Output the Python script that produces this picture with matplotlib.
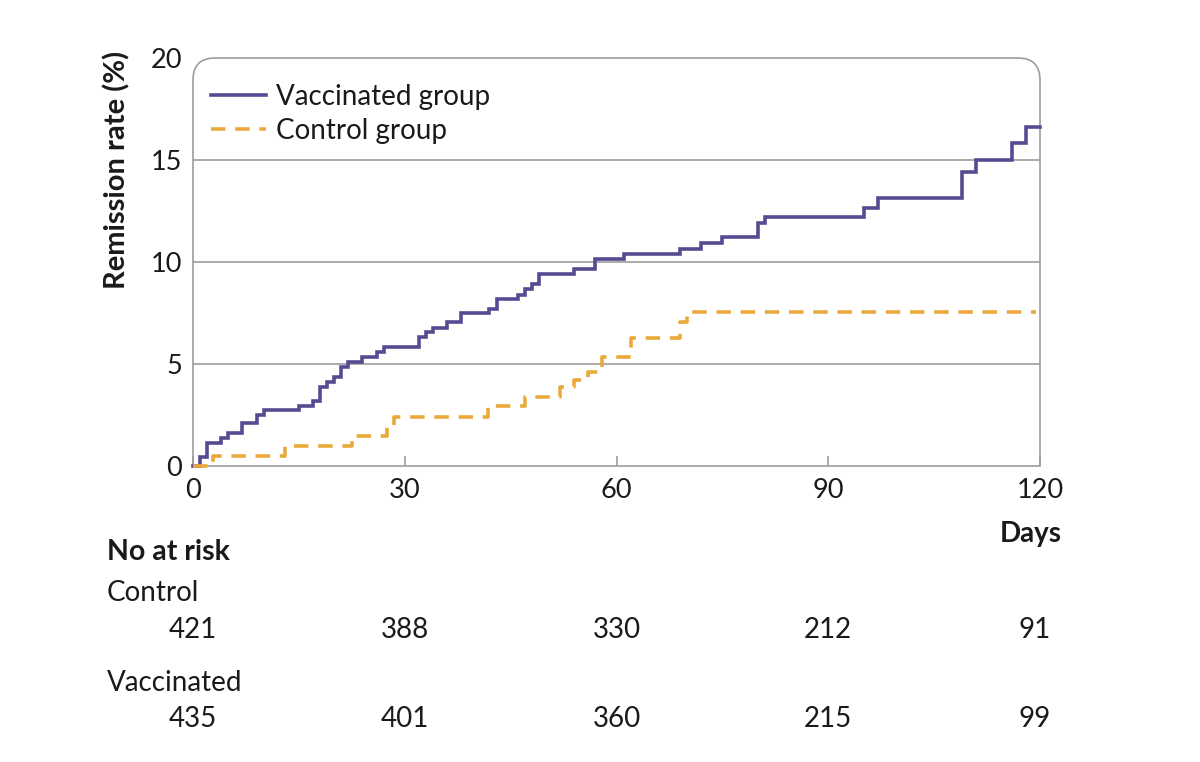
import matplotlib
matplotlib.use("Agg")
import matplotlib.pyplot as plt
from matplotlib.path import Path
from matplotlib.patches import PathPatch
import matplotlib.transforms as mtransforms

plt.rcParams['font.family'] = ['Lato', 'DejaVu Sans']

# ---- data ----
vacc_days = [0, 1, 2, 4, 5, 7, 9, 10, 15, 17, 18, 19, 20, 21, 22, 24, 26, 27,
             32, 33, 34, 36, 38, 42, 43, 46, 47, 48, 49, 54, 57, 61, 69, 72,
             75, 80, 81, 95, 97, 109, 111, 116, 118, 120]
vacc_vals = [0, 0.46, 1.14, 1.39, 1.63, 2.09, 2.50, 2.75, 2.96, 3.19, 3.89,
             4.13, 4.38, 4.87, 5.11, 5.36, 5.60, 5.85, 6.31, 6.58, 6.78, 7.04,
             7.48, 7.68, 8.19, 8.38, 8.66, 8.92, 9.41, 9.64, 10.13, 10.38,
             10.64, 10.92, 11.24, 11.90, 12.22, 12.63, 13.12, 14.43, 15.00,
             15.82, 16.60, 16.60]

ctrl_days = [0, 2.8, 13, 22.5, 27.5, 28.5, 41.8, 47, 52, 54, 56, 58, 62, 69,
             70, 119.5]
ctrl_vals = [0, 0.48, 0.97, 1.45, 1.94, 2.42, 2.96, 3.40, 3.85, 4.20, 4.62,
             5.36, 6.26, 7.07, 7.54, 7.54]

x_ticks = [0, 30, 60, 90, 120]
y_ticks = [0, 5, 10, 15, 20]
risk_days = [0, 30, 60, 90, 120]
risk_control = [421, 388, 330, 212, 91]
risk_vacc = [435, 401, 360, 215, 99]

series_labels = ["Vaccinated group", "Control group"]

# ---- styles ----
PURPLE = '#574a92'
ORANGE = '#e9aa3b'
GRID = '#9d9d9d'
TXT = '#1a1a1a'

fig = plt.figure(figsize=(12, 7.62), dpi=100)
ax = fig.add_axes([193/1200, 1 - 466/762, (1040-193)/1200, (466-58)/762])

ax.step(vacc_days, vacc_vals, where='post', color=PURPLE, lw=2.6,
        label=series_labels[0], solid_joinstyle='miter', zorder=3, clip_on=False)
ax.step(ctrl_days, ctrl_vals, where='post', color=ORANGE, lw=2.6,
        linestyle=(0, (4.0, 2.7)), label=series_labels[1], zorder=3, clip_on=False)

ax.set_xlim(0, 120)
ax.set_ylim(0, 20)
ax.set_xticks(x_ticks)
ax.set_yticks(y_ticks)

for v in y_ticks[1:-1]:
    ax.axhline(v, color=GRID, lw=1.2, zorder=1)

for s in ['top', 'left', 'right']:
    ax.spines[s].set_visible(False)
ax.spines['bottom'].set_color(GRID)
ax.spines['bottom'].set_linewidth(1.2)

# rounded-top frame
rx, ry = 22/847, 22/408
verts = [(0, 0), (0, 1 - ry), (0, 1), (rx, 1), (1 - rx, 1), (1, 1), (1, 1 - ry), (1, 0)]
codes = [Path.MOVETO, Path.LINETO, Path.CURVE3, Path.CURVE3, Path.LINETO,
         Path.CURVE3, Path.CURVE3, Path.LINETO]
frame = PathPatch(Path(verts, codes), transform=ax.transAxes, fill=False,
                  edgecolor=GRID, lw=1.2, clip_on=False, zorder=2)
ax.add_patch(frame)

ax.tick_params(axis='x', direction='in', length=7, width=1.2, color=GRID,
               labelsize=19.5, labelcolor=TXT, pad=9)
ax.tick_params(axis='y', length=0, labelsize=19.5, labelcolor=TXT, pad=8)

fig.text(117/1200, 1 - 170/762, "Remission rate (%)", rotation=90,
         ha='center', va='center', fontsize=21, fontweight='bold', color=TXT)

leg = ax.legend(loc='upper left', bbox_to_anchor=(0.021, 0.937), frameon=False,
                fontsize=20, handlelength=2.0, handletextpad=0.35,
                labelspacing=0.3, borderpad=0, borderaxespad=0)
for t in leg.get_texts():
    t.set_color(TXT)

# Days label
fig.text(1062/1200, 1 - 534/762, "Days", ha='right', va='center',
         fontsize=20, fontweight='bold', color=TXT)

# number at risk table
fig.text(107/1200, 1 - 552/762, "No at risk", ha='left', va='center',
         fontsize=20.5, fontweight='bold', color=TXT)
fig.text(107/1200, 1 - 593/762, "Control", ha='left', va='center',
         fontsize=20, color=TXT)
fig.text(107/1200, 1 - 683/762, "Vaccinated", ha='left', va='center',
         fontsize=20, color=TXT)

trans = mtransforms.blended_transform_factory(ax.transData, fig.transFigure)
for i, d in enumerate(risk_days):
    xoff = -5 if i == len(risk_days) - 1 else 0
    ax.text(d + xoff * 120/847, 1 - 630/762, str(risk_control[i]), transform=trans,
            ha='center', va='center', fontsize=20, color=TXT)
    ax.text(d + xoff * 120/847, 1 - 719/762, str(risk_vacc[i]), transform=trans,
            ha='center', va='center', fontsize=20, color=TXT)

fig.savefig("out.png", dpi=100, facecolor='white')
